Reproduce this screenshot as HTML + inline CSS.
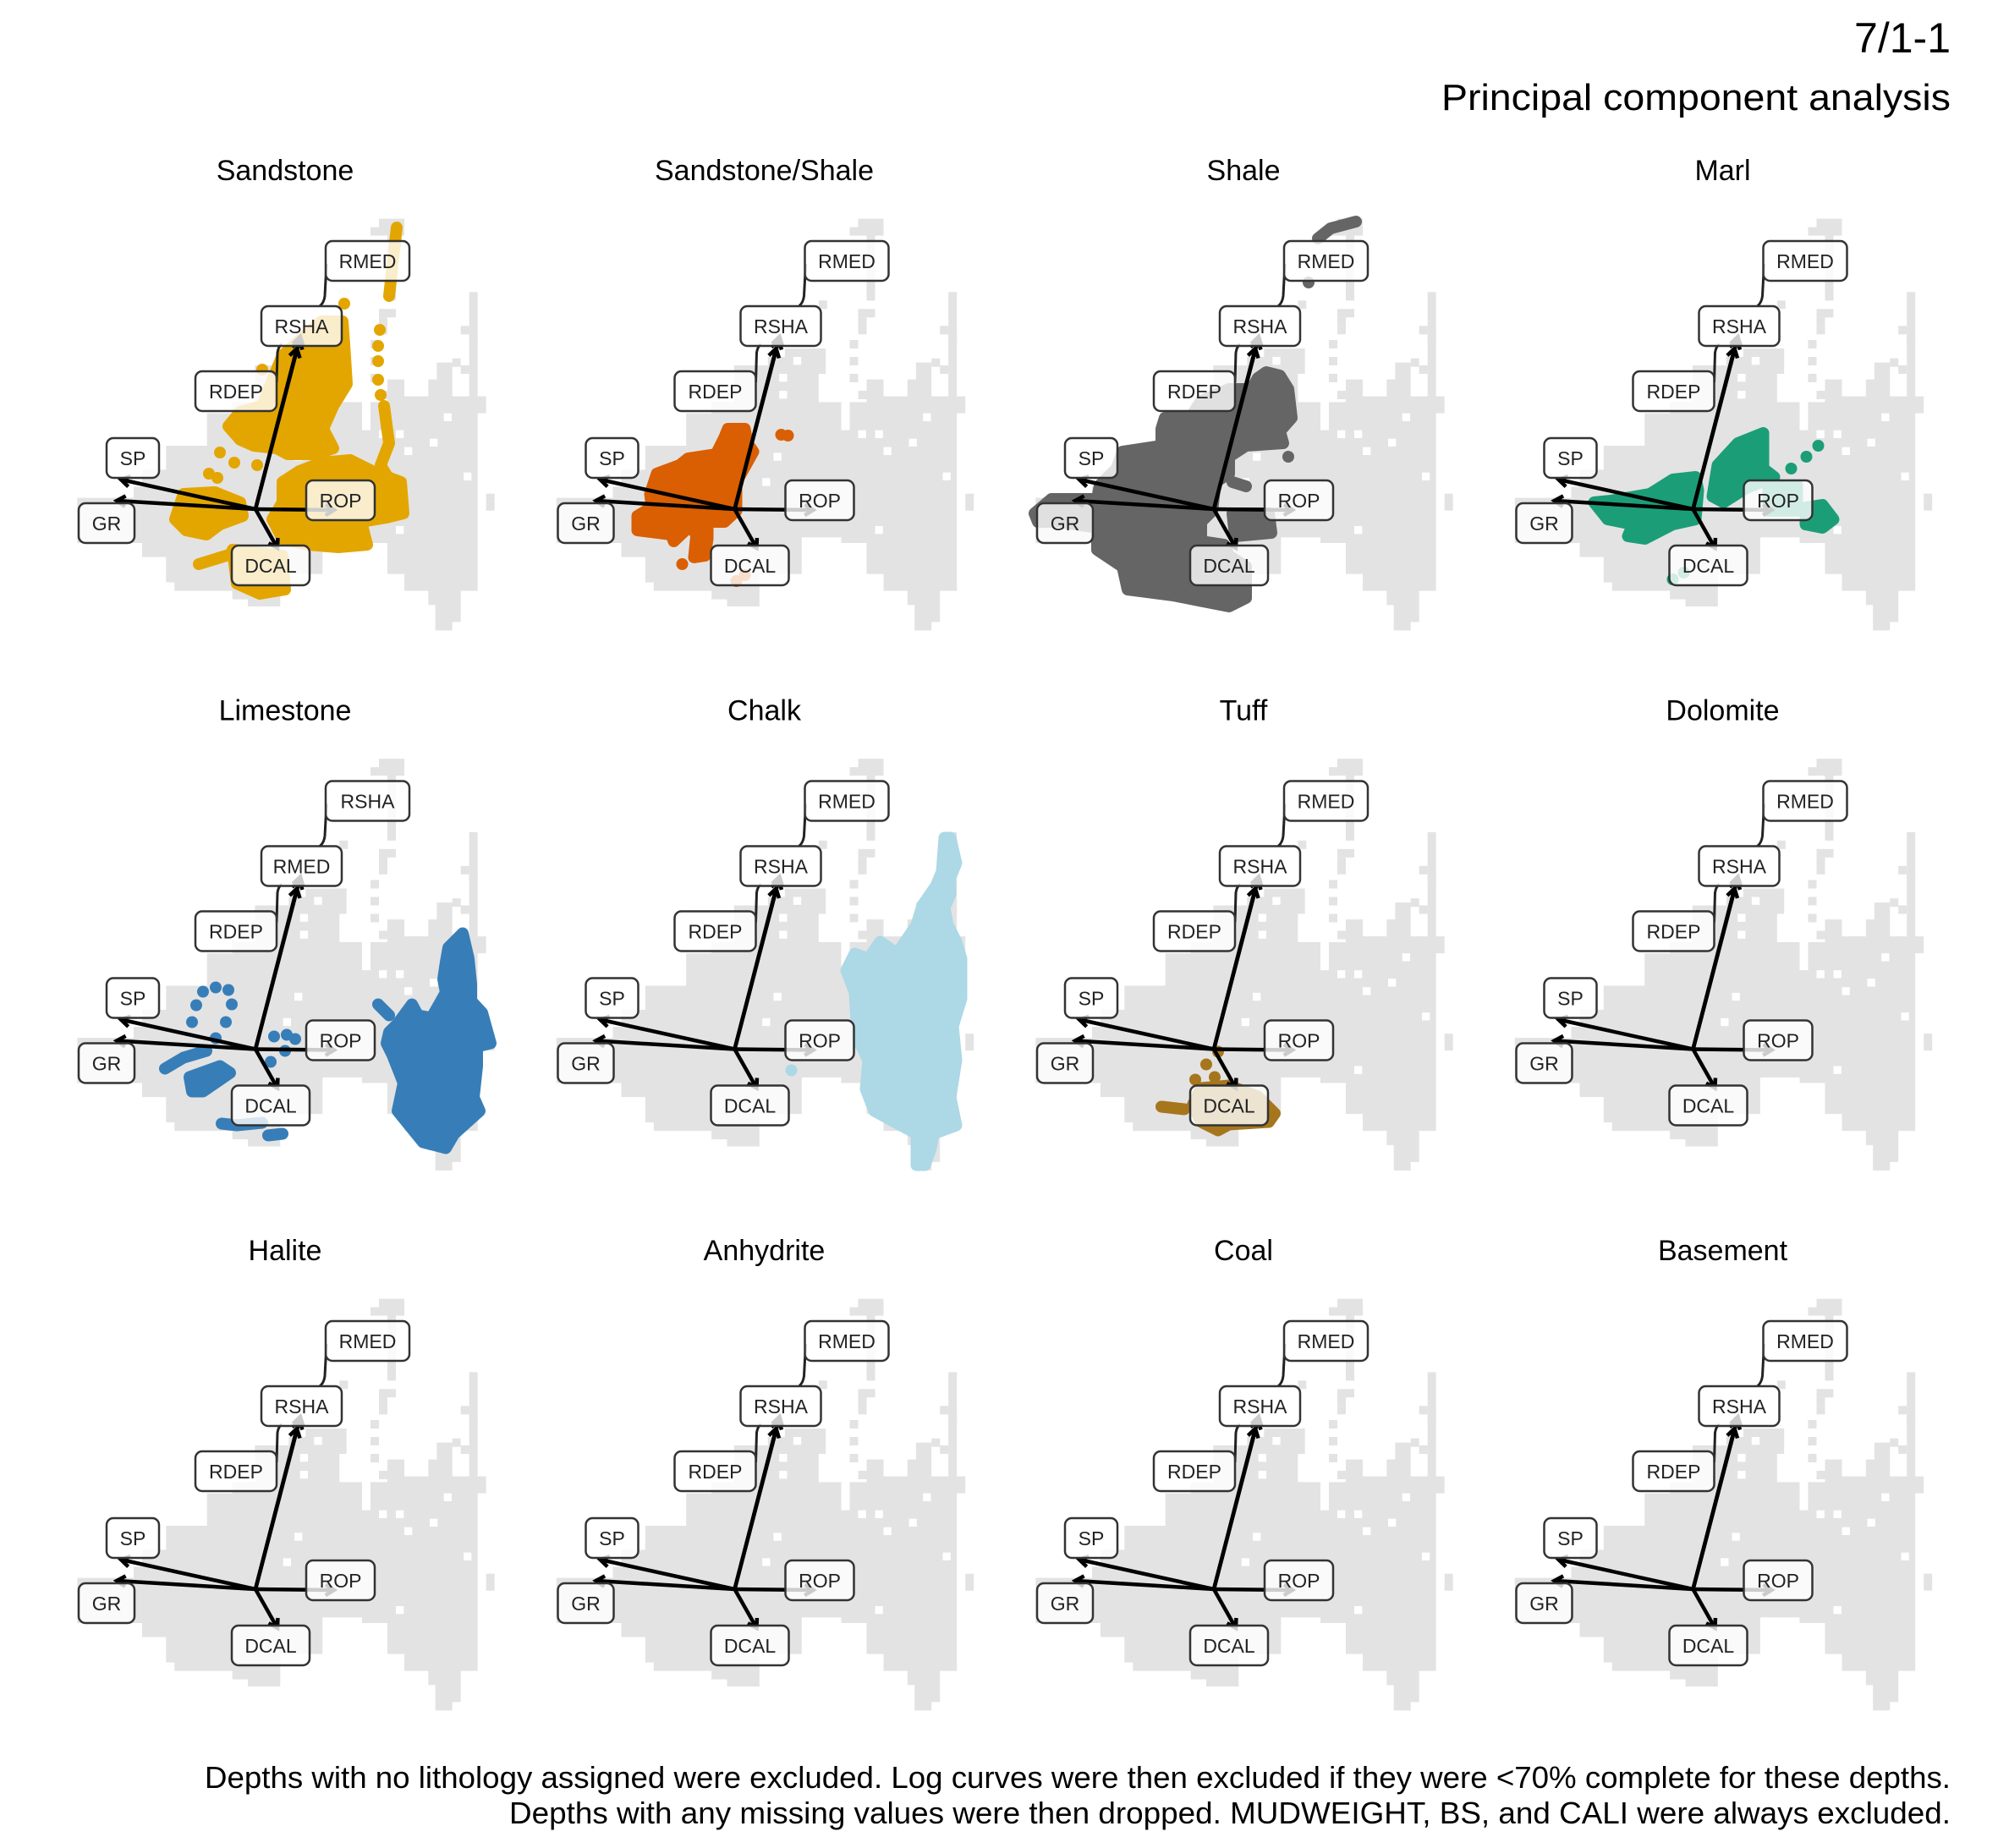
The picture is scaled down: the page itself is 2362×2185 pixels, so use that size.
<!DOCTYPE html>
<html><head><meta charset="utf-8"><style>
html,body{margin:0;padding:0;background:#fff;}
svg{display:block;font-family:"Liberation Sans",Arial,sans-serif;}
</style></head><body>
<svg id="chart" width="2362" height="2185" viewBox="0 0 2362 2185" xmlns="http://www.w3.org/2000/svg">
<rect width="2362" height="2185" fill="#fff"/>
<text x="2306" y="62" text-anchor="end" font-size="50" fill="#000">7/1-1</text>
<text x="2306" y="130" text-anchor="end" font-size="44" fill="#000" textLength="602" lengthAdjust="spacingAndGlyphs">Principal component analysis</text>
<text x="2306" y="2114" text-anchor="end" font-size="36" fill="#000" textLength="2064" lengthAdjust="spacingAndGlyphs">Depths with no lithology assigned were excluded. Log curves were then excluded if they were &lt;70% complete for these depths.</text>
<text x="2306" y="2156" text-anchor="end" font-size="36" fill="#000" textLength="1704" lengthAdjust="spacingAndGlyphs">Depths with any missing values were then dropped. MUDWEIGHT, BS, and CALI were always excluded.</text>
<g id="panels"></g>
</svg>
<script>
// ---- data ----
const panelNames = ["Sandstone","Sandstone/Shale","Shale","Marl","Limestone","Chalk","Tuff","Dolomite","Halite","Anhydrite","Coal","Basement"];
const panelColors = ["#e3a600","#d95f02","#656565","#1b9e77","#377eb8","#add8e6","#a6761d","#999","#999","#999","#999","#999"];
const loadingNames = ["GR","SP","RSHA","RMED","RDEP","ROP","DCAL"];
const loadingPC1 = [-16.4,-15.9,5.3,5.2,4.9,9.3,2.6];
const loadingPC2 = [1.0,3.5,20.4,20.0,19.0,-0.1,-4.6];

const sandstoneDots = [[10.5,24.3],[0.8,16.5],[-4.2,6.7],[-2.5,5.5],[0.2,5.2],[-5.5,4.2],[-4.5,3.7],[14.7,21.2],[14.5,19.3],[14.5,17.5],[14.5,15.3],[14.8,13.5]];
const sandstoneLines = [[[16.7,33.3],[15.8,25.2]],[[15.2,12.2],[15.8,7.8],[14.8,5.2],[16.2,2.8],[16.5,0.2]],[[-6.7,-6.5],[-2.5,-5.2]]];
const sandstoneBlobs = [
 [[3.2,18.2],[7.8,22.2],[10.3,22.2],[10.5,19.5],[10.8,14.8],[9.2,12.2],[8,9.5],[9.2,7.2],[7.2,6.5],[3.8,6.5],[2.5,7.2],[-0.2,7.5],[-1.8,8.2],[-3.2,9.8],[-1.8,11.5],[0.8,12.2],[1.8,14.8]],
 [[3.2,3.2],[5.2,4.5],[7.8,5.5],[11.2,5.8],[13.8,4.5],[17.2,3.2],[17.5,-0.5],[15.5,-1],[12.5,-1.5],[13.2,-4.2],[9.8,-4.5],[6.2,-4.2],[3.2,-3.5],[2,-1.2],[3.2,0.8]],
 [[-8.5,1.8],[-4.8,2],[-1.8,0.8],[-1.5,-0.8],[-4.2,-1.8],[-5.8,-3],[-8.2,-2.5],[-9.5,-1.2]],
 [[-2.7,-4.8],[3.2,-5.5],[3.5,-9.5],[0.5,-10],[-2.2,-8.8]]];

const sandShaleDots = [[-6.2,-6.5],[5.5,8.8],[6.3,8.7],[0.2,-8.5],[1.2,-7.8]];
const sandShaleLines = [];
const sandShaleBlobs = [[[-0.8,9.5],[1.2,9.5],[1.5,7.8],[2.2,6.8],[0.2,3.2],[0.2,-0.2],[-1.2,-1.5],[-3.2,-1.5],[-3.2,-3.5],[-3.5,-5.5],[-4.8,-5.7],[-4.5,-2.8],[-5.5,-2.2],[-7.2,-3.8],[-7.5,-3],[-11.5,-2.5],[-11.5,-0.8],[-9.8,0.2],[-10,1.8],[-9.2,4.2],[-6.5,5.2],[-5.5,6],[-2.2,6.5],[-1.2,8.5]]];

const shaleDots = [[11.2,26.8],[8.8,6.2]];
const shaleLines = [[[12.3,32],[13.8,33.2],[16.8,34]],[[2.2,3.2],[3.8,2.7]]];
const shaleBlobs = [
 [[6.2,16.2],[7.8,15.8],[8.8,14.2],[9.2,10.8],[7.8,9.2],[8.2,7.8],[3.8,7.5],[1.8,6.2],[1.8,4.2],[0.2,3.2],[-0.2,-0.2],[-1.5,-1.5],[-1.5,-3.8],[1.2,-4.2],[1.8,-5.5],[3.8,-6.8],[3.8,-10.5],[1.8,-11.5],[-1.8,-10.8],[-4.8,-10.2],[-10.2,-9.5],[-10.8,-6.8],[-13.8,-4.8],[-13.8,-2.2],[-18.2,-1.5],[-20.8,-1.5],[-21.2,-0.5],[-19.2,1.2],[-13.8,1.2],[-13.5,2.8],[-11.5,4.8],[-10.8,6.8],[-6.2,7.5],[-6.2,9.5],[-5.8,10.8],[-2.8,10.8],[-1.5,12.8],[1.8,14.2],[4.5,14.2],[5.2,15.5]],
 [[2.2,-0.5],[6.5,-0.5],[6.8,-2.8],[2.5,-3.2]]];

const marlDots = [[14.8,7.5],[13.4,6.2],[11.6,4.8],[-2.4,-8.3],[-1.1,-7.5]];
const marlLines = [];
const marlBlobs = [
 [[2.3,1.5],[2.9,5.2],[5.3,7.8],[8.3,9],[8.3,4.8],[9.6,3.8],[6.3,2.5],[3.6,0.8]],
 [[-11.7,0.8],[-9.7,1],[-5.1,1.8],[-2.4,3.5],[0.3,3.8],[0.6,2.2],[0.3,-1.2],[-2.4,-1.8],[-5.7,-3.5],[-7.7,-3.2],[-7.1,-1.8],[-10.1,-1.2]],
 [[13.3,0.2],[15.3,0.5],[16.6,-1.2],[15.3,-2.2],[13.3,-1.8]],
 [[8.9,2.8],[12.3,2.8],[12.3,-0.2],[8.9,-0.2]]];

const limestoneDots = [[-6.2,6.8],[-4.7,7.3],[-3.2,7],[-7,5.2],[-2.8,5.3],[-7.5,3.2],[-3.5,3.2],[-4.7,1.3],[2.2,1.5],[3.7,1.7],[4.7,1.2],[3.5,-0.2],[1.8,-1.5]];
const limestoneLines = [[[14.5,5.3],[15.8,4]],[[-10.7,-2.3],[-8.5,-1],[-5.8,-0.2]],[[-4,-8.8],[-2.2,-9],[0.8,-8.7]],[[1.5,-10.2],[3.2,-10]]];
const limestoneBlobs = [
 [[15.8,2],[16.8,3],[18.5,5.3],[19.2,4],[20.8,3.7],[22.5,6.7],[22.2,8.3],[22.5,10.3],[22.8,12],[24.5,13.7],[25.2,10.7],[25.5,7.7],[25.5,5.7],[26.8,4.3],[27.8,0.7],[26.2,0.3],[26.2,-2],[25.8,-5.7],[26.5,-7.3],[23.5,-10],[22.5,-11.7],[19.8,-11],[16.8,-7.3],[17.5,-4],[16.2,-0.7],[15.5,0.7]],
 [[-7.8,-3.3],[-4.2,-2],[-3,-2.8],[-6.2,-5],[-7.5,-5]]];

const chalkDots = [[6.7,-2.5]];
const chalkLines = [];
const chalkBlobs = [[[25.5,25],[26.2,22],[25.5,20.3],[25.5,18.3],[24.8,16.7],[25.2,14.7],[26.2,12.7],[26.8,10.7],[26.8,6],[25.8,2.7],[26.2,-1.3],[25.5,-5.7],[26.2,-9],[23.5,-10],[23.2,-11.7],[22.5,-13.7],[21.5,-13.7],[21.5,-10],[20.2,-9.3],[16.5,-7.3],[15.5,-4.7],[15.8,-1.3],[14.5,1.3],[14.2,6.7],[13.2,9.3],[14.2,11.3],[15.8,10.7],[17.2,12.7],[19.2,11.3],[21.5,14.7],[22.2,17],[23.8,19.3],[24.5,21],[24.8,25]]];

const tuffDots = [[0.5,-0.3],[-0.9,-1.8],[-2.2,-3.6],[0.1,-3.3]];
const tuffLines = [[[-6.2,-6.8],[-3.5,-7.1]]];
const tuffBlobs = [[[-1.5,-4.6],[1.8,-4.3],[5.2,-5.6],[7.2,-7.6],[6.5,-8.6],[1.8,-8.9],[0.5,-9.6],[-1.5,-8.6],[-2.5,-6.6]]];

const seriesDots = [sandstoneDots,sandShaleDots,shaleDots,marlDots,limestoneDots,chalkDots,tuffDots];
const seriesLines = [sandstoneLines,sandShaleLines,shaleLines,marlLines,limestoneLines,chalkLines,tuffLines];
const seriesBlobs = [sandstoneBlobs,sandShaleBlobs,shaleBlobs,marlBlobs,limestoneBlobs,chalkBlobs,tuffBlobs];

// background density outline (zoom-grid units, origin at 662,1080, 3 units = 1px)
const cloudMain = [[30,1040],[230,1040],[230,1000],[260,1000],[260,940],[345,940],[345,855],[490,855],[490,740],[580,740],[580,700],[660,700],[660,570],[780,570],[780,540],[840,540],[840,510],[985,510],[985,600],[960,600],[960,700],[1040,700],[1040,800],[1070,800],[1070,700],[1130,700],[1130,620],[1190,620],[1190,680],[1275,680],[1275,620],[1305,620],[1305,560],[1360,560],[1360,680],[1420,680],[1420,310],[1450,310],[1450,680],[1480,680],[1480,740],[1450,740],[1450,1370],[1390,1370],[1390,1480],[1360,1480],[1360,1510],[1300,1510],[1300,1420],[1275,1420],[1275,1370],[1190,1370],[1190,1310],[1130,1310],[1130,1200],[1040,1200],[1040,1180],[900,1180],[900,1310],[750,1310],[750,1425],[635,1425],[635,1400],[580,1400],[580,1370],[375,1370],[375,1340],[345,1340],[345,1250],[260,1250],[260,1200],[30,1200]];
const cloudSpike = [[1100,50],[1190,50],[1190,110],[1160,110],[1160,340],[1130,340],[1130,110],[1070,110],[1070,80],[1100,80]];
const cloudCells = [[960,340],[1100,370],[1130,370],[1070,480],[1070,540],[1070,600],[1100,660],[1390,430],[1420,460],[1360,545],[1390,570],[1480,1025],[1480,1055],[1100,400],[1100,430]];
const cloudHoles = [[1160,800],[1100,800],[1190,860],[1400,950],[1160,1140],[870,540],[820,600],[820,660],[800,880],[760,970],[1330,740],[1280,830]];

const NS = "http://www.w3.org/2000/svg";
const root = document.getElementById("panels");
function mk(tag, attrs, parent){ const e=document.createElementNS(NS,tag); for(const k in attrs) e.setAttribute(k,attrs[k]); (parent||root).appendChild(e); return e; }

const labelBoxes = {GR:[-209,-9,66],SP:[-176,-86,62],RSHA:[7,-242,95],RMED:[83,-319,99],RDEP:[-71,-165,96],ROP:[60,-36,81],DCAL:[-28,41,92]};

panelNames.forEach((name, i) => {
  const c = i % 4, r = Math.floor(i / 4);
  const ox = 302 + 566.5 * c, oy = 602 + 638.5 * r;
  const sx = u => ox + u * 10;
  const sy = v => oy - v * 10;
  const g = mk("g", {});
  
  

  const t = mk("text", {x: ox + 35, y: oy - 389, "text-anchor": "middle", "font-size": 34, fill: "#000"}, g);
  t.textContent = name;
  
  

  // background cloud
  const cg = mk("g", {transform: `translate(${ox},${oy}) scale(${1/3}) translate(-662,-1080)`, fill: "#e3e3e3"}, g);
  
  
  mk("polygon", {points: cloudMain.map(p => p.join(",")).join(" ")}, cg);
  mk("polygon", {points: cloudSpike.map(p => p.join(",")).join(" ")}, cg);
  cloudCells.forEach(p => mk("rect", {x: p[0], y: p[1], width: 30, height: 30}, cg));
  cloudHoles.forEach(p => mk("rect", {x: p[0], y: p[1], width: 28, height: 28, fill: "#fff"}, cg));

  // points
  if (i < seriesDots.length) {
    const col = panelColors[i];
    const pg = mk("g", {fill: col, stroke: col}, g);
    
    
    seriesBlobs[i].forEach(b => {
      const el = mk("polygon", {points: b.map(p => sx(p[0]) + "," + sy(p[1])).join(" "), "stroke-width": 14, "stroke-linejoin": "round"}, pg);
      
      
    });
    seriesLines[i].forEach(l => {
      const el = mk("polyline", {points: l.map(p => sx(p[0]) + "," + sy(p[1])).join(" "), fill: "none", "stroke-width": 14, "stroke-linecap": "round", "stroke-linejoin": "round"}, pg);
      
      
    });
    seriesDots[i].forEach(p => {
      const el = mk("circle", {cx: sx(p[0]), cy: sy(p[1]), r: 7, stroke: "none"}, pg);
      
      
    });
  }

  // loading arrows
  const ag = mk("g", {stroke: "#000", "stroke-width": 4.5, fill: "none", "stroke-linecap": "butt"}, g);
  
  
  loadingNames.forEach((ln, k) => {
    const x2 = sx(loadingPC1[k]), y2 = sy(loadingPC2[k]);
    const a = mk("line", {x1: ox, y1: oy, x2: x2, y2: y2}, ag);
    
    
    const ang = Math.atan2(y2 - oy, x2 - ox);
    const h = mk("polyline", {points: [
      (x2 - 12*Math.cos(ang - 0.55)) + "," + (y2 - 12*Math.sin(ang - 0.55)),
      x2 + "," + y2,
      (x2 - 12*Math.cos(ang + 0.55)) + "," + (y2 - 12*Math.sin(ang + 0.55))].join(" ")}, ag);
    
    
  });
  // leader lines
  const lg = mk("g", {stroke: "#222", "stroke-width": 3, fill: "none"}, g);
  
  
  mk("path", {d: `M${ox+84},${oy-290} L${ox+82},${oy-252} Q${ox+81},${oy-244} ${ox+76},${oy-240}`}, lg);
  mk("path", {d: `M${ox+25},${oy-150} L${ox+26},${oy-185} Q${ox+27},${oy-192} ${ox+31},${oy-195}`}, lg);

  // labels
  loadingNames.forEach(ln => {
    let key = ln;
    if (name === "Limestone") { if (ln === "RSHA") key = "RMED"; else if (ln === "RMED") key = "RSHA"; }
    const b = labelBoxes[key];
    const w = Math.max(b[2], ln.length * 15 + 30);
    const lb = mk("g", {}, g);
    
    
    const bx = ox + b[0] + (b[2] - w) / 2;
    mk("rect", {x: bx, y: oy + b[1] + 2, width: w, height: 47, rx: 8, fill: "#fff", "fill-opacity": 0.8, stroke: "#333", "stroke-width": 2.5}, lb);
    const tx = mk("text", {x: bx + w / 2, y: oy + b[1] + 34, "text-anchor": "middle", "font-size": 23, fill: "#222"}, lb);
    tx.textContent = ln;
  });
});
</script>
</body></html>
